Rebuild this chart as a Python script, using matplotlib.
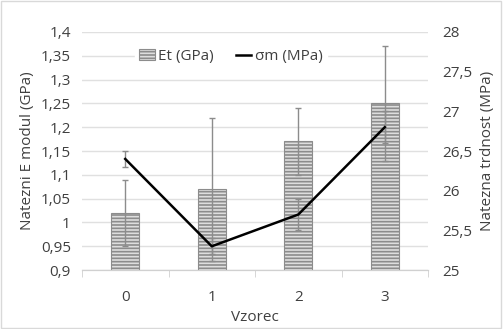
import numpy as np
import matplotlib.pyplot as plt
from matplotlib.ticker import FuncFormatter, MultipleLocator

categories = ['0', '1', '2', '3']
et_gpa = [1.02, 1.07, 1.17, 1.25]
et_err = [0.07, 0.15, 0.07, 0.12]
sigma_mpa = [26.4, 25.3, 25.7, 26.8]
sigma_err = [0.1, 0.1, 0.2, 0.2]


def comma_fmt(v, pos):
    s = ('%.2f' % v).rstrip('0').rstrip('.')
    return s.replace('.', ',')


plt.rcParams['font.family'] = ['Open Sans', 'DejaVu Sans']
plt.rcParams['hatch.linewidth'] = 1.2
plt.rcParams['hatch.color'] = '#8c8c8c'

fig = plt.figure(figsize=(5.03, 3.29), dpi=100)
ax = fig.add_axes([0.163, 0.179, 0.688, 0.724])
ax2 = ax.twinx()

x = np.arange(len(categories))
txt = '#404040'

ax.bar(x, et_gpa, width=0.32, color='#dedede', edgecolor='#8c8c8c',
       hatch='-----', linewidth=0.8, label='Et (GPa)', zorder=2)
ax.errorbar(x, et_gpa, yerr=et_err, fmt='none', ecolor='#8c8c8c',
            elinewidth=1, capsize=2, zorder=3)

ax2.plot(x, sigma_mpa, color='black', linewidth=1.8, label='σm (MPa)', zorder=4)
ax2.errorbar(x, sigma_mpa, yerr=sigma_err, fmt='none', ecolor='#8c8c8c',
             elinewidth=1, capsize=2, zorder=3)

ax.set_xlim(-0.5, 3.5)
ax.set_ylim(0.9, 1.4)
ax2.set_ylim(25, 28)
ax.yaxis.set_major_locator(MultipleLocator(0.05))
ax2.yaxis.set_major_locator(MultipleLocator(0.5))
ax.yaxis.set_major_formatter(FuncFormatter(comma_fmt))
ax2.yaxis.set_major_formatter(FuncFormatter(comma_fmt))
ax.grid(axis='y', color='#e0e0e0', linewidth=1, zorder=0)
ax.set_axisbelow(True)

ax.set_xticks(x)
ax.set_xticklabels(categories)
ax.set_xticks(np.arange(-0.5, 4, 1), minor=True)
ax.tick_params(axis='x', which='major', length=0, pad=14, labelsize=11, labelcolor=txt)
ax.tick_params(axis='x', which='minor', length=5, color='#d0d0d0', direction='out')
ax.tick_params(axis='y', length=0, labelsize=11, labelcolor=txt, pad=8)
ax2.tick_params(axis='y', length=0, labelsize=11, labelcolor=txt, pad=10)

for a in (ax, ax2):
    for s in ('top', 'left', 'right'):
        a.spines[s].set_visible(False)
    a.spines['bottom'].set_color('#d0d0d0')

ax.set_xlabel('Vzorec', fontsize=11, color=txt, labelpad=4)
ax.set_ylabel('Natezni E modul (GPa)', fontsize=11, color=txt, labelpad=4)
ax2.set_ylabel('Natezna trdnost (MPa)', fontsize=11, color=txt, labelpad=6)

h1, l1 = ax.get_legend_handles_labels()
h2, l2 = ax2.get_legend_handles_labels()
leg = ax2.legend(h1 + h2, l1 + l2, loc='upper center', bbox_to_anchor=(0.43, 0.98),
                 ncol=2, frameon=True, fancybox=False, edgecolor='white',
                 framealpha=1, fontsize=11, handlelength=1.0, handletextpad=0.2,
                 columnspacing=1.5, borderpad=0.3)
for t in leg.get_texts():
    t.set_color(txt)

fig.patches.append(plt.Rectangle((0.002, 0.003), 0.995, 0.994, transform=fig.transFigure,
                                 fill=False, edgecolor='#d9d9d9', linewidth=1))

fig.savefig('out.png', dpi=100)
